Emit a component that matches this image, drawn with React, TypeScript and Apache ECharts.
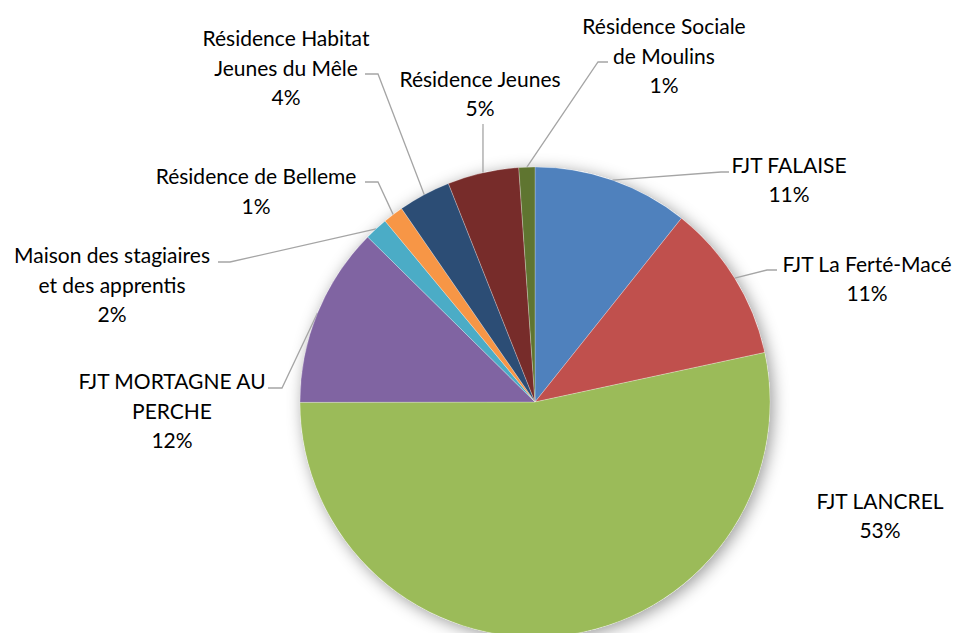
import React, { useEffect, useRef } from "react";
import * as echarts from "echarts";

const categories = [
  "FJT FALAISE",
  "FJT La Ferté-Macé",
  "FJT LANCREL",
  "FJT MORTAGNE AU PERCHE",
  "Maison des stagiaires et des apprentis",
  "Résidence de Belleme",
  "Résidence Habitat Jeunes du Mêle",
  "Résidence Jeunes",
  "Résidence Sociale de Moulins",
];
const values = [10.7, 10.9, 53.3, 12.4, 1.6, 1.4, 3.6, 4.9, 1.1];
const wrappedNames = [
  "FJT FALAISE",
  "FJT La Ferté-Macé",
  "FJT LANCREL",
  "FJT MORTAGNE AU\nPERCHE",
  "Maison des stagiaires\net des apprentis",
  "Résidence de Belleme",
  "Résidence Habitat\nJeunes du Mêle",
  "Résidence Jeunes",
  "Résidence Sociale\nde Moulins",
];
const colors = [
  "#4F81BD", "#C0504D", "#9BBB59", "#8064A2", "#4BACC6",
  "#F79646", "#2C4D75", "#772C2A", "#5F7530",
];

// label placement (layout only)
const labelCenters: [number, number][] = [
  [789, 179], [867, 278], [880, 515], [172, 410], [112, 284],
  [256, 190.5], [286, 67], [480, 93], [664, 55],
];
const guideTails: [number, number][][] = [
  [[721, 172], [729, 172]],
  [[767, 270], [777, 270]],
  [],
  [[282, 388], [268, 388]],
  [[230, 262], [218, 262]],
  [[378, 182], [365, 182]],
  [[378, 74], [365, 74]],
  [[483, 124]],
  [[598, 62], [608, 62]],
];

export default function App() {
  const ref = useRef<HTMLDivElement>(null);
  useEffect(() => {
    document.body.style.margin = "0";
    const chart = echarts.init(ref.current!, null, { renderer: "svg" });
    const total = values.reduce((a, b) => a + b, 0);
    chart.setOption({
      animation: false,
      backgroundColor: "#ffffff",
      series: [
        {
          type: "pie",
          silent: true,
          center: [535, 402],
          radius: 235,
          z: 1,
          label: { show: false },
          labelLine: { show: false },
          itemStyle: {
            color: "#ffffff",
            shadowBlur: 16,
            shadowColor: "rgba(0,0,0,0.4)",
            shadowOffsetX: 3,
            shadowOffsetY: 3,
          },
          data: [{ value: total, name: "" }],
        },
        {
          type: "pie",
          z: 2,
          center: [535, 402],
          radius: 235,
          startAngle: 90,
          clockwise: true,
          avoidLabelOverlap: false,
          itemStyle: { borderColor: "rgba(255,255,255,0.5)", borderWidth: 0.5 },
          label: {
            show: true,
            position: "outside",
            fontFamily: "Lato",
            fontSize: 21,
            lineHeight: 29.5,
            color: "#000000",
            align: "center",
            formatter: (p: any) =>
              wrappedNames[p.dataIndex] + "\n" + Math.round(p.percent) + "%",
          },
          labelLine: {
            show: true,
            lineStyle: { color: "#a5a5a5", width: 1.3 },
          },
          labelLayout: (params: any) => {
            const i = params.dataIndex;
            const c = labelCenters[i];
            const res: any = {
              x: c[0],
              y: c[1],
              align: "center",
              verticalAlign: "middle",
            };
            if (params.labelLinePoints && guideTails[i].length) {
              res.labelLinePoints = [params.labelLinePoints[0], ...guideTails[i]];
            }
            return res;
          },
          data: categories.map((name, i) => ({
            name,
            value: values[i],
            itemStyle: { color: colors[i] },
            labelLine: { show: guideTails[i].length > 0 },
          })),
        },
      ],
    });
    return () => chart.dispose();
  }, []);
  return <div ref={ref} style={{ width: 957, height: 633 }} />;
}
